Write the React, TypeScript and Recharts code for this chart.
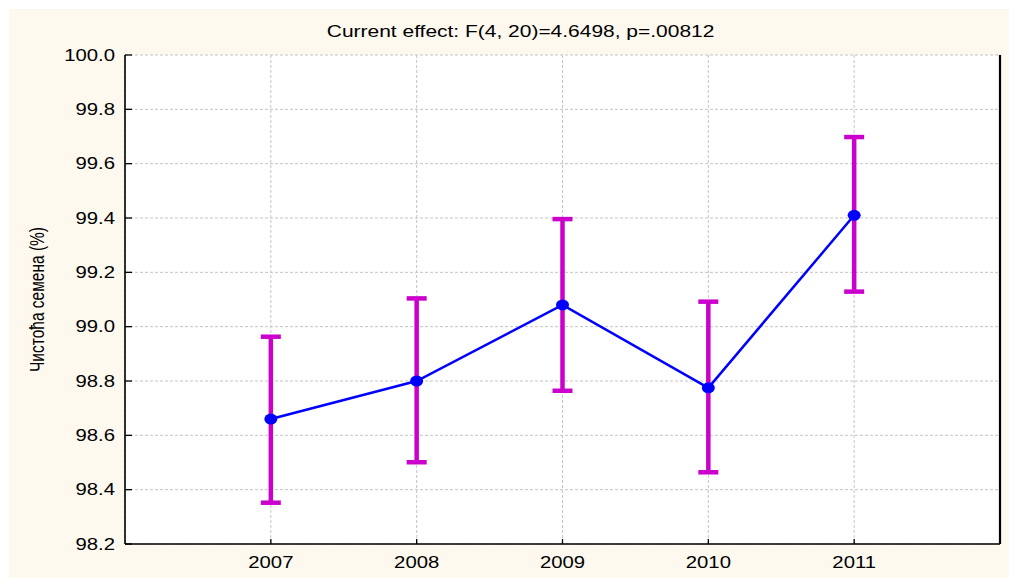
import React from 'react';
import { LineChart, Line, XAxis, YAxis, CartesianGrid, ErrorBar } from 'recharts';

const years = [2007, 2008, 2009, 2010, 2011];
const means = [98.66, 98.8, 99.08, 98.775, 99.41];
const upper = [98.963, 99.104, 99.396, 99.092, 99.698];
const lower = [98.352, 98.501, 98.764, 98.464, 99.129];
const yTicks = [98.2, 98.4, 98.6, 98.8, 99.0, 99.2, 99.4, 99.6, 99.8, 100.0];

const SUBTITLE = 'Current effect: F(4, 20)=4.6498, p=.00812';
const Y_LABEL = 'Чистоћа семена (%)';

const FONT = '"Liberation Sans", Arial, sans-serif';
const SX = 1.27; // the original is stretched horizontally
const TICK_FS = 16;

const data = years.map((year, i) => ({
  year,
  mean: means[i],
  err: [means[i] - lower[i], upper[i] - means[i]],
}));

// left axis: label outside, tick mark pointing inward
const LeftTick = (props: any) => {
  const { x, y, payload } = props;
  const ax = x + 10;
  return (
    <g>
      <line x1={ax} x2={ax + 7} y1={y} y2={y} stroke="#000" strokeWidth={1.3} />
      <g transform={`translate(${x},${y})`}>
        <text transform={`scale(${SX},1)`} textAnchor="end" dy="0.36em" fontSize={TICK_FS} fill="#000" fontFamily={FONT}>
          {Number(payload.value).toFixed(1)}
        </text>
      </g>
    </g>
  );
};

const BottomTick = (props: any) => {
  const { x, y, payload } = props;
  const ay = y - 12;
  return (
    <g>
      <line x1={x} x2={x} y1={ay - 5} y2={ay} stroke="#000" strokeWidth={1.3} />
      <g transform={`translate(${x},${ay + 24})`}>
        <text transform={`scale(${SX},1)`} textAnchor="middle" fontSize={TICK_FS} fill="#000" fontFamily={FONT}>
          {payload.value}
        </text>
      </g>
    </g>
  );
};

const TopTick = (props: any) => {
  const { x, y } = props;
  return <line x1={x} x2={x} y1={y} y2={y + 7} stroke="#000" strokeWidth={1.3} />;
};

const RightTick = (props: any) => {
  const { x, y } = props;
  return <line x1={x - 6} x2={x} y1={y} y2={y} stroke="#000" strokeWidth={1.3} />;
};

const YLabel = (props: any) => {
  const vb = props.viewBox || { x: 30, y: 55, width: 95, height: 489 };
  const cx = vb.x + 7;
  const cy = vb.y + vb.height / 2;
  return (
    <text
      transform={`translate(${cx},${cy}) scale(${SX},1) rotate(-90)`}
      textAnchor="middle"
      dy="0.36em"
      fontSize={15.5}
      fill="#000"
      fontFamily={FONT}
    >
      {Y_LABEL}
    </text>
  );
};

const Dot = (props: any) => {
  const { cx, cy, index } = props;
  return <ellipse key={index} cx={cx} cy={cy} rx={6.5} ry={5.5} fill="#0000ff" stroke="none" />;
};

export default function App() {
  return (
    <div style={{ position: 'absolute', left: 0, top: 0, width: 1009, height: 578, background: '#fff', overflow: 'hidden' }}>
      <div style={{ position: 'absolute', left: 9, top: 9, width: 1000, height: 569, background: '#fdf9ef' }} />
      <div
        style={{
          position: 'absolute',
          left: 0,
          top: 23,
          width: 1042,
          textAlign: 'center',
          fontFamily: FONT,
          fontSize: 16.5,
          lineHeight: '16.5px',
          color: '#000',
        }}
      >
        <span style={{ display: 'inline-block', transform: `scaleX(${SX})` }}>{SUBTITLE}</span>
      </div>
      <div style={{ position: 'absolute', left: 0, top: 0 }}>
        <LineChart width={1009} height={578} data={data} margin={{ top: 55, right: 8, bottom: 0, left: 30 }}>
          <CartesianGrid stroke="#c4c4c4" strokeDasharray="3 2" fill="#ffffff" />
          <XAxis
            dataKey="year"
            type="number"
            domain={[2006, 2012]}
            ticks={years}
            height={34}
            tickSize={0}
            tickMargin={12}
            tick={<BottomTick />}
            tickLine={false}
            axisLine={{ stroke: '#000', strokeWidth: 1.6 }}
          />
          <XAxis
            xAxisId="top"
            orientation="top"
            type="number"
            domain={[2006, 2012]}
            ticks={years}
            height={0}
            tickSize={0}
            tickMargin={0}
            tick={<TopTick />}
            tickLine={false}
            axisLine={{ stroke: '#000', strokeWidth: 1.3 }}
          />
          <YAxis
            type="number"
            domain={[98.2, 100]}
            ticks={yTicks}
            width={95}
            tickSize={0}
            tickMargin={10}
            tick={<LeftTick />}
            tickLine={false}
            axisLine={{ stroke: '#000', strokeWidth: 1.6 }}
            label={{ content: <YLabel /> }}
          />
          <YAxis
            yAxisId="right"
            orientation="right"
            type="number"
            domain={[98.2, 100]}
            ticks={yTicks}
            width={1}
            tickSize={0}
            tickMargin={0}
            tick={<RightTick />}
            tickLine={false}
            axisLine={{ stroke: '#000', strokeWidth: 2.2 }}
          />
          <Line
            dataKey="mean"
            stroke="#0000ff"
            strokeWidth={2.5}
            dot={Dot}
            activeDot={false}
            isAnimationActive={false}
          >
            <ErrorBar dataKey="err" direction="y" width={10} stroke="#cc00cc" strokeWidth={4.5} isAnimationActive={false} />
          </Line>
        </LineChart>
      </div>
    </div>
  );
}
